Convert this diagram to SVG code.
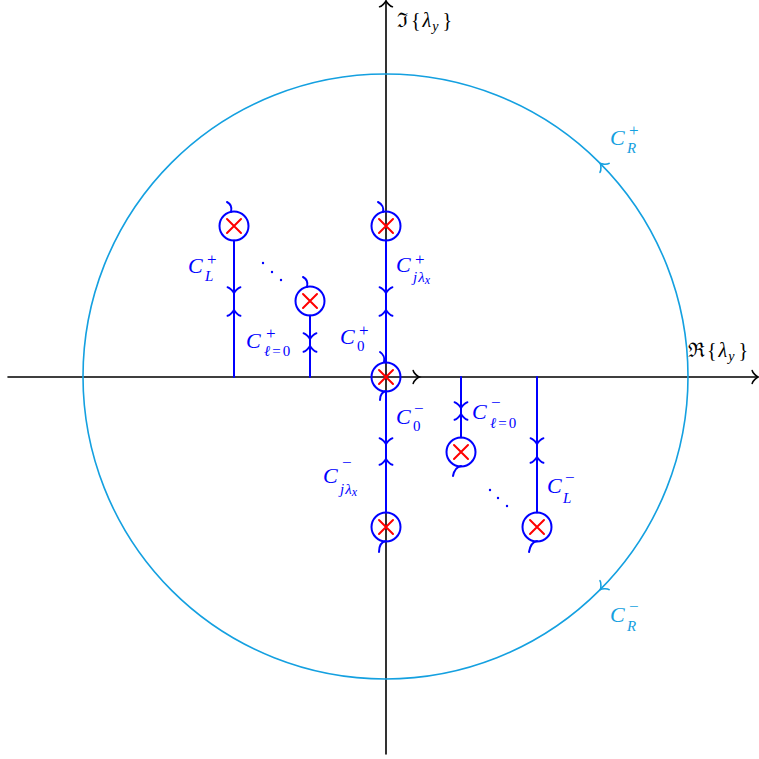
<svg xmlns="http://www.w3.org/2000/svg" xmlns:xlink="http://www.w3.org/1999/xlink" width="759" height="759" viewBox="0 0 759 759">
<style>
.ax{stroke:#000;stroke-width:1.6;fill:none;stroke-linecap:round}
.bl{stroke:#0000ff;stroke-width:2;fill:none;stroke-linecap:round}
.cy{stroke:#14a0e0;stroke-width:1.6;fill:none;stroke-linecap:round}
.rx{stroke:#ff0000;stroke-width:2;fill:none;stroke-linecap:round}
.lb{font-family:"Liberation Serif","DejaVu Serif",serif;font-style:italic;fill:#0000ff}
.lc{font-family:"Liberation Serif","DejaVu Serif",serif;font-style:italic;fill:#14a0e0}
.lk{font-family:"Liberation Serif","DejaVu Serif",serif;fill:#000;font-size:20px}
.m{font-size:22px}
.s{font-size:15px}
.p{font-size:17px;font-style:normal}
.n{font-style:normal}
</style>
<defs>
<path id="ah" d="M-4.8,6.4 C-4.4,4 0,0.4 1.2,0 C0,-0.4 -4.4,-4 -4.8,-6.4"/>
<g id="x"><path d="M-7,-7 L7,7 M-7,7 L7,-7"/></g>
</defs>

<g id="axes">
<path class="ax" d="M8,377 H757 M386,754 V2"/>
<use href="#ah" class="ax" transform="translate(757,377)"/>
<use href="#ah" class="ax" transform="translate(418,377)"/>
<use href="#ah" class="ax" transform="translate(386,2) rotate(-90)"/>
<text class="lk" x="397" y="27">ℑ<tspan dx="3">{</tspan><tspan dx="2" font-style="italic">λ</tspan><tspan font-style="italic" font-size="14px" dx="1" dy="4">y</tspan><tspan dx="4" dy="-4">}</tspan></text>
<text class="lk" x="688" y="357">ℜ<tspan dx="2">{</tspan><tspan dx="2" font-style="italic">λ</tspan><tspan font-style="italic" font-size="14px" dx="1" dy="4">y</tspan><tspan dx="4" dy="-4">}</tspan></text>
</g>

<g id="connectors">
<circle class="cy" cx="385.5" cy="376.5" r="302.5"/>
<use href="#ah" class="cy" transform="translate(601.2,164.4) rotate(-134.5)"/>
<use href="#ah" class="cy" transform="translate(601.2,588.6) rotate(134.5)"/>
<path class="bl" d="M234,377 V240.5 M310,377 V315.5 M386,362.5 V240.5 M386,391.5 V512.5 M461,377 V437.5 M537,377 V512.5"/>
<use href="#ah" class="bl" transform="translate(234,292) rotate(90)"/>
<use href="#ah" class="bl" transform="translate(234,311) rotate(-90)"/>
<use href="#ah" class="bl" transform="translate(310,338) rotate(90)"/>
<use href="#ah" class="bl" transform="translate(310,347) rotate(-90)"/>
<use href="#ah" class="bl" transform="translate(386,292) rotate(90)"/>
<use href="#ah" class="bl" transform="translate(386,311) rotate(-90)"/>
<use href="#ah" class="bl" transform="translate(461,407) rotate(90)"/>
<use href="#ah" class="bl" transform="translate(461,415) rotate(-90)"/>
<use href="#ah" class="bl" transform="translate(537,443) rotate(90)"/>
<use href="#ah" class="bl" transform="translate(537,458) rotate(-90)"/>
<use href="#ah" class="bl" transform="translate(386,443) rotate(90)"/>
<use href="#ah" class="bl" transform="translate(386,460) rotate(-90)"/>
</g>

<g id="pole-L-plus">
<circle class="bl" cx="234" cy="226" r="14.5"/>
<path class="bl" d="M227,202 C231,204 232,208 231,212"/>
<use href="#x" class="rx" transform="translate(234,226)"/>
</g>
<g id="pole-l0-plus">
<circle class="bl" cx="310" cy="301" r="14.5"/>
<path class="bl" d="M303,277 C307,279 308,283 307,287"/>
<use href="#x" class="rx" transform="translate(310,301)"/>
</g>
<g id="pole-jlx-plus">
<circle class="bl" cx="386" cy="226" r="14.5"/>
<path class="bl" d="M378,202 C382,204 384,208 383,212"/>
<use href="#x" class="rx" transform="translate(386,226)"/>
</g>
<g id="pole-origin">
<circle class="bl" cx="386" cy="377" r="14.5"/>
<path class="bl" d="M380,352 C383,354 385,358 384,362"/>
<path class="bl" d="M386,391 C382,392 380,395 380,400"/>
<use href="#x" class="rx" transform="translate(386,377)"/>
</g>
<g id="pole-l0-minus">
<circle class="bl" cx="461" cy="452" r="14.5"/>
<path class="bl" d="M461,466 C456,467 454,471 453,476"/>
<use href="#x" class="rx" transform="translate(461,452)"/>
</g>
<g id="pole-L-minus">
<circle class="bl" cx="537" cy="527" r="14.5"/>
<path class="bl" d="M537,541 C532,542 530,546 529,552"/>
<use href="#x" class="rx" transform="translate(537,527)"/>
</g>
<g id="pole-jlx-minus">
<circle class="bl" cx="386" cy="527" r="14.5"/>
<path class="bl" d="M386,541 C381,542 379,546 379,552"/>
<use href="#x" class="rx" transform="translate(386,527)"/>
</g>

<g id="dots" fill="#0000ff">
<circle cx="263" cy="263" r="1.2"/><circle cx="272" cy="272" r="1.2"/><circle cx="281" cy="280" r="1.2"/>
<circle cx="490" cy="490" r="1.2"/><circle cx="498" cy="498" r="1.2"/><circle cx="507" cy="506" r="1.2"/>
</g>

<g id="labels">
<text class="lb"><tspan class="m" x="188" y="273">C</tspan><tspan class="p" x="207" y="265">+</tspan><tspan class="s" x="205" y="281">L</tspan></text>
<text class="lb"><tspan class="m" x="246" y="348">C</tspan><tspan class="p" x="266" y="339">+</tspan><tspan class="s" x="264" y="356">ℓ<tspan class="n" dx="2">=</tspan><tspan class="n" dx="2">0</tspan></tspan></text>
<text class="lb"><tspan class="m" x="396" y="272">C</tspan><tspan class="p" x="415" y="265">+</tspan><tspan class="s" x="413" y="282">j<tspan dx="1">λ</tspan><tspan font-size="12px" dy="2">x</tspan></tspan></text>
<text class="lb"><tspan class="m" x="340" y="344">C</tspan><tspan class="p" x="359" y="336">+</tspan><tspan class="s n" x="357" y="351">0</tspan></text>
<text class="lb"><tspan class="m" x="396" y="424">C</tspan><tspan class="p" x="414" y="414">−</tspan><tspan class="s n" x="413" y="431">0</tspan></text>
<text class="lb"><tspan class="m" x="472" y="419">C</tspan><tspan class="p" x="491" y="408">−</tspan><tspan class="s" x="490" y="428">ℓ<tspan class="n" dx="2">=</tspan><tspan class="n" dx="2">0</tspan></tspan></text>
<text class="lb"><tspan class="m" x="323" y="483">C</tspan><tspan class="p" x="342" y="468">−</tspan><tspan class="s" x="340" y="494">j<tspan dx="1">λ</tspan><tspan font-size="12px" dy="2">x</tspan></tspan></text>
<text class="lb"><tspan class="m" x="547" y="493">C</tspan><tspan class="p" x="565" y="483">−</tspan><tspan class="s" x="563" y="503">L</tspan></text>
<text class="lc"><tspan class="m" x="610" y="145">C</tspan><tspan class="p" x="629" y="136">+</tspan><tspan class="s" x="627" y="153">R</tspan></text>
<text class="lc"><tspan class="m" x="610" y="622">C</tspan><tspan class="p" x="629" y="612">−</tspan><tspan class="s" x="627" y="631">R</tspan></text>
</g>
</svg>
